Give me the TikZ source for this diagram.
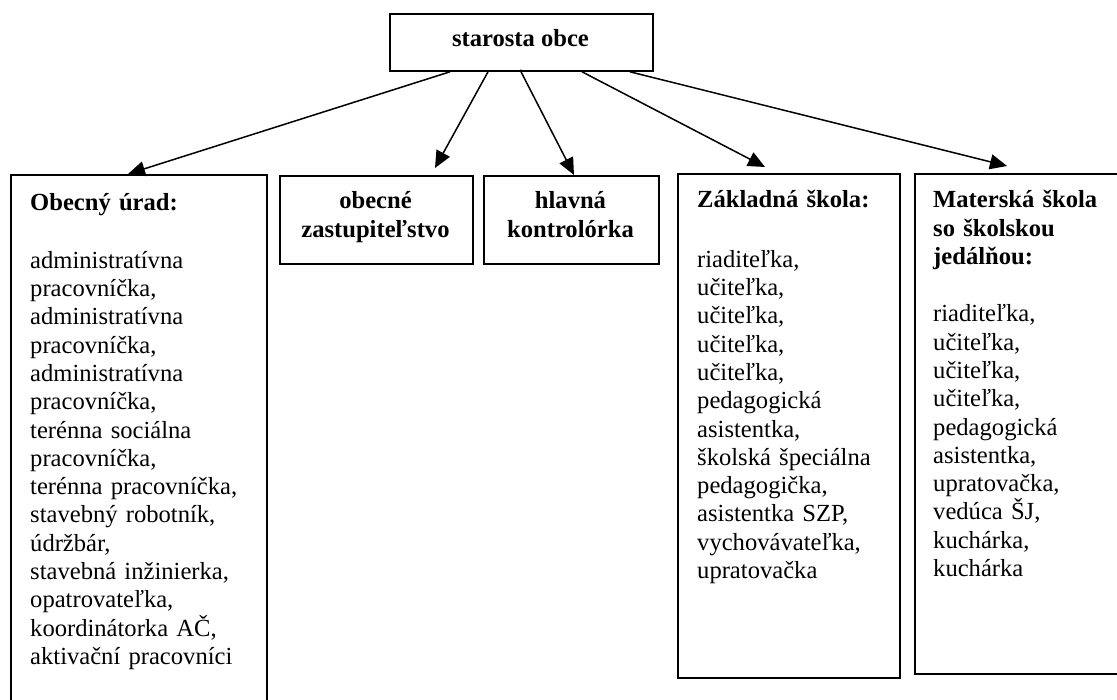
\documentclass[tikz,border=0pt]{standalone}
\usepackage{fontspec}
\setmainfont{Liberation Serif}
\usetikzlibrary{arrows.meta,calc}
\tikzset{
  box/.style={draw, line width=1.8pt, inner sep=0pt, anchor=north west},
  txt/.style={inner sep=0pt, font=\fontsize{24.6pt}{28.3pt}\selectfont},
  btxt/.style={inner sep=0pt, font=\fontsize{24.6pt}{28.3pt}\selectfont\bfseries},
  conn/.style={line width=1.5pt, -{Triangle[length=17pt,width=15pt]}}
}
\begin{document}
\begin{tikzpicture}[x=1pt,y=-1pt]
\fill[white] (0,0) rectangle (1117,700);
\useasboundingbox (0,0) rectangle (1117,700);
% boxes
\node[box, minimum width=263pt, minimum height=57pt] (top) at (389,13) {};
\node[box, minimum width=256pt, minimum height=540pt] (urad) at (10,174) {};
\node[box, minimum width=193pt, minimum height=88pt] (zast) at (279,175) {};
\node[box, minimum width=175pt, minimum height=88pt] (kontr) at (483,175) {};
\node[box, minimum width=222pt, minimum height=504pt] (zs) at (677,173) {};
\node[box, minimum width=220pt, minimum height=500pt] (ms) at (914,173) {};
% texts
\node[btxt, anchor=base] (ttop) at (520.5,47) {starosta obce};
\node[btxt, anchor=base, align=center, text width=190pt] (tzast) at (375.5,209) {obecné\\zastupiteľstvo};
\node[btxt, anchor=base, align=center, text width=172pt] (tkontr) at (570.5,209) {hlavná\\kontrolórka};
\node[txt, anchor=base west, align=left, text width=236pt] (turad) at (30,211)
  {\textbf{Obecný úrad:}\\[29pt]
   administratívna\\ pracovníčka,\\ administratívna\\ pracovníčka,\\
   administratívna\\ pracovníčka,\\ terénna sociálna\\ pracovníčka,\\
   terénna pracovníčka,\\ stavebný robotník,\\ údržbár,\\
   stavebná inžinierka,\\ opatrovateľka,\\ koordinátorka AČ,\\
   aktivační pracovníci};
\node[txt, anchor=base west, align=left, text width=200pt] (tzs) at (697,208)
  {\textbf{Základná škola:}\\[31pt]
   riaditeľka,\\ učiteľka,\\ učiteľka,\\ učiteľka,\\ učiteľka,\\
   pedagogická\\ asistentka,\\ školská špeciálna\\ pedagogička,\\
   asistentka SZP,\\ vychovávateľka,\\ upratovačka};
\node[txt, anchor=base west, align=left, text width=180pt] (tms) at (933,208)
  {\textbf{Materská škola}\\ \textbf{so školskou}\\ \textbf{jedálňou:}\\[29pt]
   riaditeľka,\\ učiteľka,\\ učiteľka,\\ učiteľka,\\ pedagogická\\
   asistentka,\\ upratovačka,\\ vedúca ŠJ,\\ kuchárka,\\ kuchárka};
% connectors
\draw[conn] ($(top.south west)+(61,0)$) -- ($(urad.north west)+(118,0)$);
\draw[conn] ($(top.south west)+(99,0)$) -- ($(zast.north west)+(156,-7)$);
\draw[conn] ($(top.south west)+(131,-2)$) -- ($(kontr.north west)+(91,0)$);
\draw[conn] ($(top.south west)+(193,0)$) -- ($(zs.north west)+(88,-6)$);
\draw[conn] ($(top.south west)+(241,0)$) -- ($(ms.north west)+(93,-7)$);
\end{tikzpicture}
\end{document}
